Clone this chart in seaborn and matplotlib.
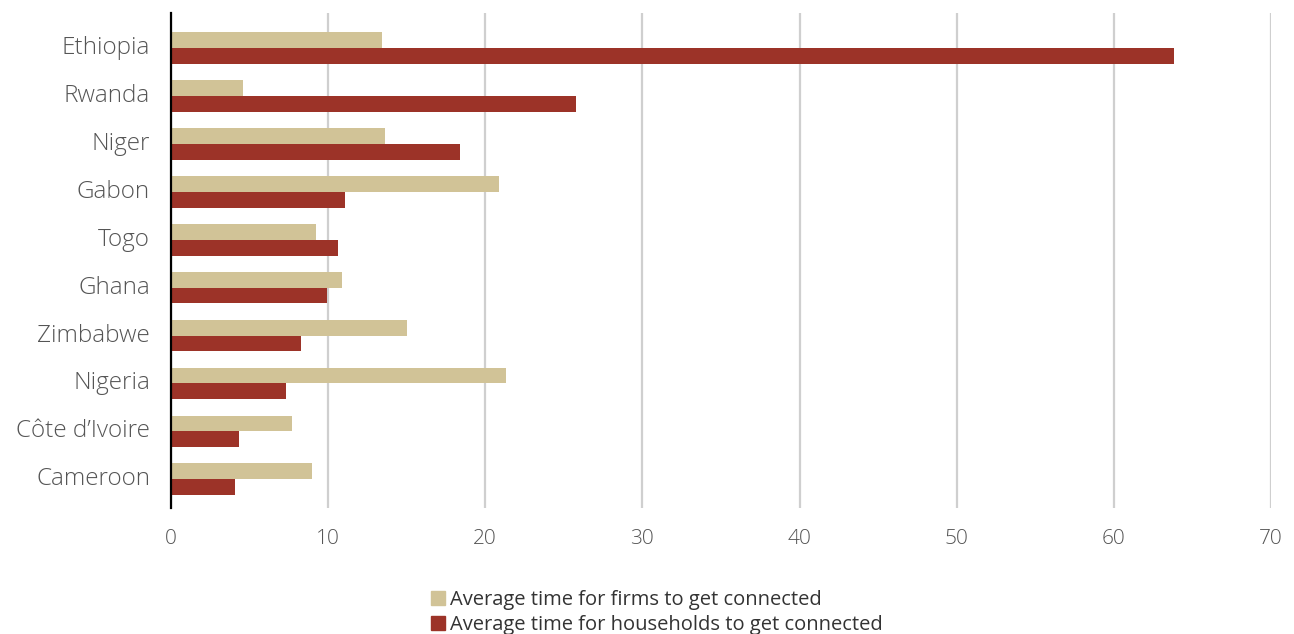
import pandas as pd
import numpy as np
import matplotlib.pyplot as plt
import matplotlib.transforms as mtransforms
import seaborn as sns


countries = ["Ethiopia", "Rwanda", "Niger", "Gabon", "Togo", "Ghana",
             "Zimbabwe", "Nigeria", "Côte d’Ivoire", "Cameroon"]
firms = [13.4, 4.6, 13.6, 20.9, 9.2, 10.9, 15.0, 21.3, 7.7, 9.0]
households = [63.8, 25.8, 18.4, 11.1, 10.6, 9.9, 8.3, 7.3, 4.3, 4.1]

firm_label = "Average time for firms to get connected"
hh_label = "Average time for households to get connected"

df = pd.DataFrame({"country": countries * 2,
                   "days": firms + households,
                   "series": [firm_label] * len(countries) + [hh_label] * len(countries)})

sns.set_style("white")
plt.rcParams['font.family'] = ['Open Sans', 'DejaVu Sans']

fig = plt.figure(figsize=(12.94, 6.34), dpi=100)
ax = fig.add_axes([0.1321, 0.1987, 0.8501, 0.7808])

sns.barplot(data=df, y="country", x="days", hue="series", orient="h",
            palette=["#D1C397", "#9C3328"], saturation=1, width=0.66,
            linewidth=0, ax=ax, legend=False)

ax.set_xlim(0, 70)
ax.set_ylim(9.6, -0.735)
ax.set_xticks(range(0, 71, 10))
ax.xaxis.grid(True, color="#cfcfcf", linewidth=1.6)
ax.set_axisbelow(True)
for s in ["top", "right", "bottom"]:
    ax.spines[s].set_visible(False)
ax.spines["left"].set_color("black")
ax.spines["left"].set_linewidth(1.6)
ax.set_xlabel("")
ax.set_ylabel("")
ax.tick_params(axis="y", length=0, pad=15, labelsize=17.5, labelcolor="#555555")
ax.tick_params(axis="x", length=0, pad=15, labelsize=15, labelcolor="#555555")
shift = mtransforms.ScaledTranslation(0, 3 / 100, fig.dpi_scale_trans)
for t in ax.get_yticklabels():
    t.set_fontweight("light")
    t.set_transform(t.get_transform() + shift)
for t in ax.get_xticklabels():
    t.set_fontweight("light")

handles = [plt.Rectangle((0, 0), 1, 1, color="#D1C397"),
           plt.Rectangle((0, 0), 1, 1, color="#9C3328")]
fig.legend(handles, [firm_label, hh_label], loc="upper left",
           bbox_to_anchor=(0.333, 0.07), frameon=False, fontsize=14.5,
           handlelength=0.7, handleheight=0.7, handletextpad=0.25,
           labelspacing=0.25, borderpad=0, borderaxespad=0, labelcolor="#333333")

fig.savefig("out.png", dpi=100)
